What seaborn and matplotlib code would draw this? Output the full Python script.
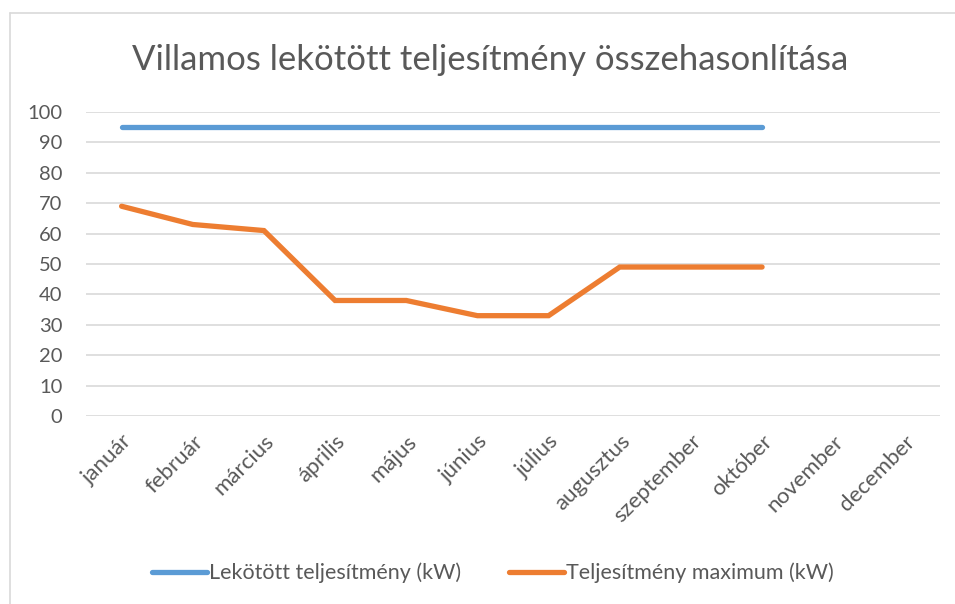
import matplotlib
matplotlib.use("Agg")
import matplotlib.pyplot as plt
import seaborn as sns
import pandas as pd
from matplotlib.lines import Line2D

months = ["január", "február", "március", "április", "május", "június",
          "július", "augusztus", "szeptember", "október", "november", "december"]
lekotott = [95, 95, 95, 95, 95, 95, 95, 95, 95, 95, None, None]
maximum = [69, 63, 61, 38, 38, 33, 33, 49, 49, 49, None, None]
series_names = ["Lekötött teljesítmény (kW)", "Teljesítmény maximum (kW)"]
title = "Villamos lekötött teljesítmény összehasonlítása"
yticks = [0, 10, 20, 30, 40, 50, 60, 70, 80, 90, 100]

colors = ["#5B9BD5", "#ED7D31"]
text_color = "#595959"
grid_color = "#D9D9D9"

sns.set_theme(style="white")
plt.rcParams["font.family"] = ["Lato", "DejaVu Sans"]

df = pd.DataFrame({"month": months, series_names[0]: lekotott, series_names[1]: maximum})
df["x"] = range(len(months))
long = df.melt(id_vars=["month", "x"], value_vars=series_names,
               var_name="series", value_name="value").dropna()

fig = plt.figure(figsize=(9.55, 6.04), dpi=100)
ax = fig.add_axes([86 / 955, 1 - 416 / 604, (940 - 86) / 955, (416 - 112) / 604])

sns.lineplot(data=long, x="x", y="value", hue="series", palette=colors,
             hue_order=series_names, ax=ax, linewidth=3.8, legend=False,
             solid_capstyle="round", solid_joinstyle="miter")

ax.set_xlim(-0.5, len(months) - 0.5)
ax.set_ylim(0, 100)
ax.set_yticks(yticks)
ax.set_yticklabels([str(v) for v in yticks], fontsize=14.5, color=text_color)
ax.set_xticks(range(len(months)))
ax.set_xticklabels(months, rotation=45, ha="right", rotation_mode="anchor",
                   fontsize=16, color=text_color)
ax.tick_params(axis="both", length=0)
ax.tick_params(axis="y", pad=17)
ax.tick_params(axis="x", pad=11)
ax.set_xlabel("")
ax.set_ylabel("")
ax.yaxis.grid(True, color=grid_color, linewidth=1.2)
ax.set_axisbelow(True)
for s in ax.spines.values():
    s.set_visible(False)

fig.text(490 / 955, 1 - 60 / 604, title, ha="center", va="center",
         fontsize=25, color=text_color)

handles = [Line2D([0], [0], color=c, linewidth=3.8, solid_capstyle="round") for c in colors]
fig.legend(handles, series_names, loc="center", bbox_to_anchor=(493 / 955, 1 - 573 / 604),
           ncol=2, frameon=False, fontsize=15.5, labelcolor=text_color,
           handlelength=2.55, handletextpad=0.1, columnspacing=2.2)

# chart area border
fig.add_artist(Line2D([10 / 955, 10 / 955], [0, 1 - 13 / 604], transform=fig.transFigure,
                      color=grid_color, linewidth=1.2))
fig.add_artist(Line2D([10 / 955, 1], [1 - 13 / 604, 1 - 13 / 604], transform=fig.transFigure,
                      color=grid_color, linewidth=1.2))

fig.savefig("out.png", dpi=100, facecolor="white")
